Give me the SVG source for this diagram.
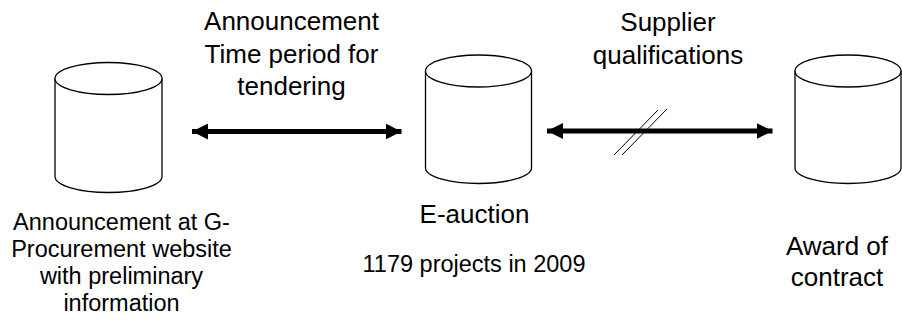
<svg xmlns="http://www.w3.org/2000/svg" width="902" height="320" viewBox="0 0 902 320">
<style>
.cyl{fill:#fff;stroke:#000;stroke-width:1.3}
.t{font-family:"Liberation Sans",Arial,sans-serif;font-size:26px;fill:#000;text-anchor:middle}
.m{font-size:23.5px}
.arr{stroke:#000;stroke-width:5;fill:none}
.sl{stroke:#000;stroke-width:1;fill:none}
</style>
<defs>
<marker id="ah" viewBox="0 0 16 16" refX="16" refY="8" markerWidth="16" markerHeight="16" markerUnits="userSpaceOnUse" orient="auto-start-reverse">
<path d="M0,0 L16,8 L0,16 Z" fill="#000"/>
</marker>
</defs>
<g id="node-announcement">
<path class="cyl" d="M55,78.5 L55,176.5 A53.5,16 0 0 0 162,176.5 L162,78.5"/>
<ellipse class="cyl" cx="108.5" cy="78.5" rx="53.5" ry="16"/>
<text class="t m" x="121.5" y="229.5">Announcement at G-</text>
<text class="t m" x="121.5" y="256.5">Procurement website</text>
<text class="t m" x="121.5" y="284">with preliminary</text>
<text class="t m" x="121.5" y="311">information</text>
</g>
<g id="node-eauction">
<path class="cyl" d="M425.5,71 L425.5,168 A53,15.5 0 0 0 531.5,168 L531.5,71"/>
<ellipse class="cyl" cx="478.5" cy="71" rx="53" ry="16"/>
<text class="t" x="474.5" y="223">E-auction</text>
<text class="t m" x="474" y="271.5">1179 projects in 2009</text>
</g>
<g id="node-award">
<path class="cyl" d="M795,71 L795,168 A53,15.5 0 0 0 901,168 L901,71"/>
<ellipse class="cyl" cx="848" cy="71" rx="53" ry="16"/>
<text class="t" x="837" y="255">Award of</text>
<text class="t" x="837" y="286">contract</text>
</g>
<g id="connectors">
<line class="arr" x1="192" y1="131.5" x2="401.5" y2="131.5" marker-start="url(#ah)" marker-end="url(#ah)"/>
<line class="arr" x1="547" y1="131" x2="772.5" y2="131" marker-start="url(#ah)" marker-end="url(#ah)"/>
<line class="sl" x1="614" y1="155" x2="658" y2="110"/>
<line class="sl" x1="622" y1="155" x2="667" y2="109"/>
<text class="t" x="291.5" y="29.5">Announcement</text>
<text class="t" x="291.5" y="63">Time period for</text>
<text class="t" x="291.5" y="94.5">tendering</text>
<text class="t" x="668" y="31">Supplier</text>
<text class="t" x="668" y="64">qualifications</text>
</g>
</svg>
